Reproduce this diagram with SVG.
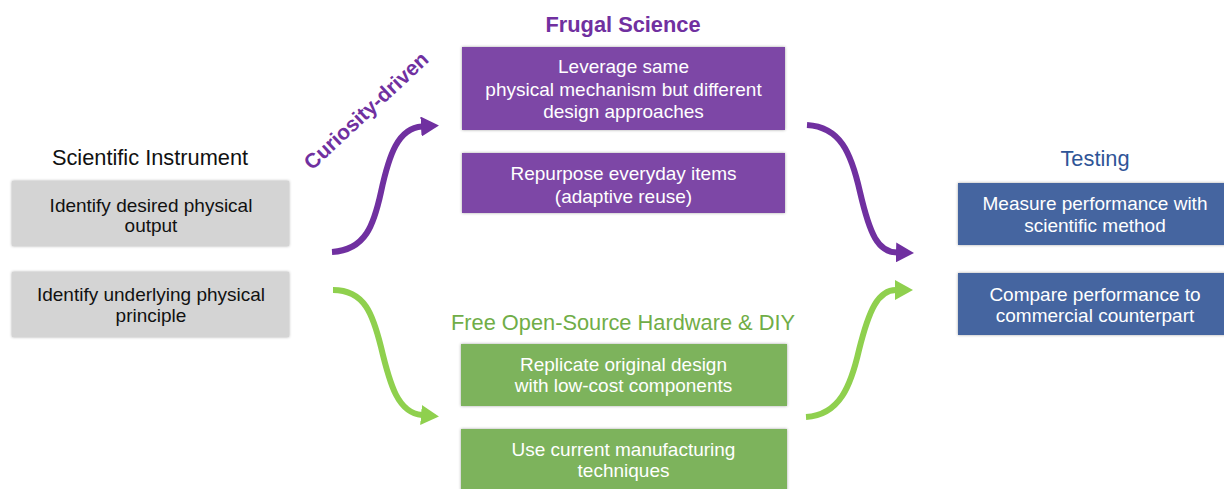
<svg xmlns="http://www.w3.org/2000/svg" width="1224" height="489" viewBox="0 0 1224 489">
  <style>
    text { font-family: "Liberation Sans", Arial, sans-serif; text-anchor: middle; }
    .title { font-size: 21.8px; }
    .box-text { font-size: 19px; fill: #ffffff; }
    .dark { fill: #111111; }
    .gray { fill: #d4d4d4; }
    .purple { fill: #7d46a6; }
    .green { fill: #7db35c; }
    .blue { fill: #4565a0; }
    .box { filter: url(#soft); }
    .conn { fill: none; stroke-width: 6; }
  </style>
  <defs>
    <filter id="soft" x="-10%" y="-20%" width="120%" height="140%">
      <feDropShadow dx="0" dy="0" stdDeviation="1.6" flood-color="#000000" flood-opacity="0.35"/>
    </filter>
    <marker id="headPurple" viewBox="0 0 18 20" refX="1" refY="10" markerWidth="18" markerHeight="20" markerUnits="userSpaceOnUse" orient="auto">
      <path d="M0,0 L18,10 L0,20 z" fill="#7030a0"/>
    </marker>
    <marker id="headGreen" viewBox="0 0 18 20" refX="1" refY="10" markerWidth="18" markerHeight="20" markerUnits="userSpaceOnUse" orient="auto">
      <path d="M0,0 L18,10 L0,20 z" fill="#8fd04e"/>
    </marker>
  </defs>

  <rect width="1224" height="489" fill="#ffffff"/>

  <!-- Left column: scientific instrument -->
  <g id="scientific-instrument">
    <text class="title" x="150" y="165" fill="#111111">Scientific Instrument</text>
  </g>
  <g id="identify-output">
    <rect class="box gray" x="12" y="181" width="277" height="65"/>
    <text class="box-text dark" x="151" y="211.5">Identify desired physical</text>
    <text class="box-text dark" x="151" y="232">output</text>
  </g>
  <g id="identify-principle">
    <rect class="box gray" x="12" y="272" width="277" height="65"/>
    <text class="box-text dark" x="151" y="300.5">Identify underlying physical</text>
    <text class="box-text dark" x="151" y="321.5">principle</text>
  </g>

  <!-- Upper path: frugal science -->
  <g id="frugal-science">
    <text class="title" x="623" y="32" fill="#7030a0" font-weight="bold">Frugal Science</text>
  </g>
  <g id="leverage-mechanism">
    <rect class="box purple" x="462" y="47" width="323" height="83"/>
    <text class="box-text" x="623.5" y="73">Leverage same</text>
    <text class="box-text" x="623.5" y="95.5">physical mechanism but different</text>
    <text class="box-text" x="623.5" y="118">design approaches</text>
  </g>
  <g id="repurpose-items">
    <rect class="box purple" x="462" y="153" width="323" height="60"/>
    <text class="box-text" x="623.5" y="180">Repurpose everyday items</text>
    <text class="box-text" x="623.5" y="202.5">(adaptive reuse)</text>
  </g>

  <!-- Lower path: open-source hardware -->
  <g id="open-source-hardware">
    <text class="title" x="623" y="330" fill="#70ad47">Free Open-Source Hardware &amp; DIY</text>
  </g>
  <g id="replicate-design">
    <rect class="box green" x="461" y="344" width="326" height="62"/>
    <text class="box-text" x="623.5" y="370.5">Replicate original design</text>
    <text class="box-text" x="623.5" y="392">with low-cost components</text>
  </g>
  <g id="manufacturing">
    <rect class="box green" x="461" y="429" width="326" height="70"/>
    <text class="box-text" x="623.5" y="455.5">Use current manufacturing</text>
    <text class="box-text" x="623.5" y="476.5">techniques</text>
  </g>

  <!-- Right column: testing -->
  <g id="testing">
    <text class="title" x="1095" y="166" fill="#2f5597" font-size="20.5">Testing</text>
  </g>
  <g id="measure-performance">
    <rect class="box blue" x="958" y="183" width="280" height="62"/>
    <text class="box-text" x="1095" y="210">Measure performance with</text>
    <text class="box-text" x="1095" y="231.5">scientific method</text>
  </g>
  <g id="compare-performance">
    <rect class="box blue" x="958" y="273" width="280" height="62"/>
    <text class="box-text" x="1095" y="300.5">Compare performance to</text>
    <text class="box-text" x="1095" y="322">commercial counterpart</text>
  </g>

  <!-- Connectors -->
  <g id="connectors">
    <path class="conn" stroke="#7030a0" marker-end="url(#headPurple)" d="M332,252 C366,250 374,224 381,192 C389,155 398,128 422,126.5"/>
    <path class="conn" stroke="#7030a0" marker-end="url(#headPurple)" d="M807,125 C840,127 851,152 860,192 C870,235 878,252 897,252.5"/>
    <path class="conn" stroke="#8fd04e" marker-end="url(#headGreen)" d="M333,290 C365,290 373,315 381,347 C390,385 398,413 422,415"/>
    <path class="conn" stroke="#8fd04e" marker-end="url(#headGreen)" d="M806,417 C840,415 851,385 859,350 C869,310 878,290 896,290"/>
    <text x="371" y="116" font-size="21" font-weight="bold" fill="#7030a0" transform="rotate(-43 371 116)">Curiosity-driven</text>
  </g>
</svg>
